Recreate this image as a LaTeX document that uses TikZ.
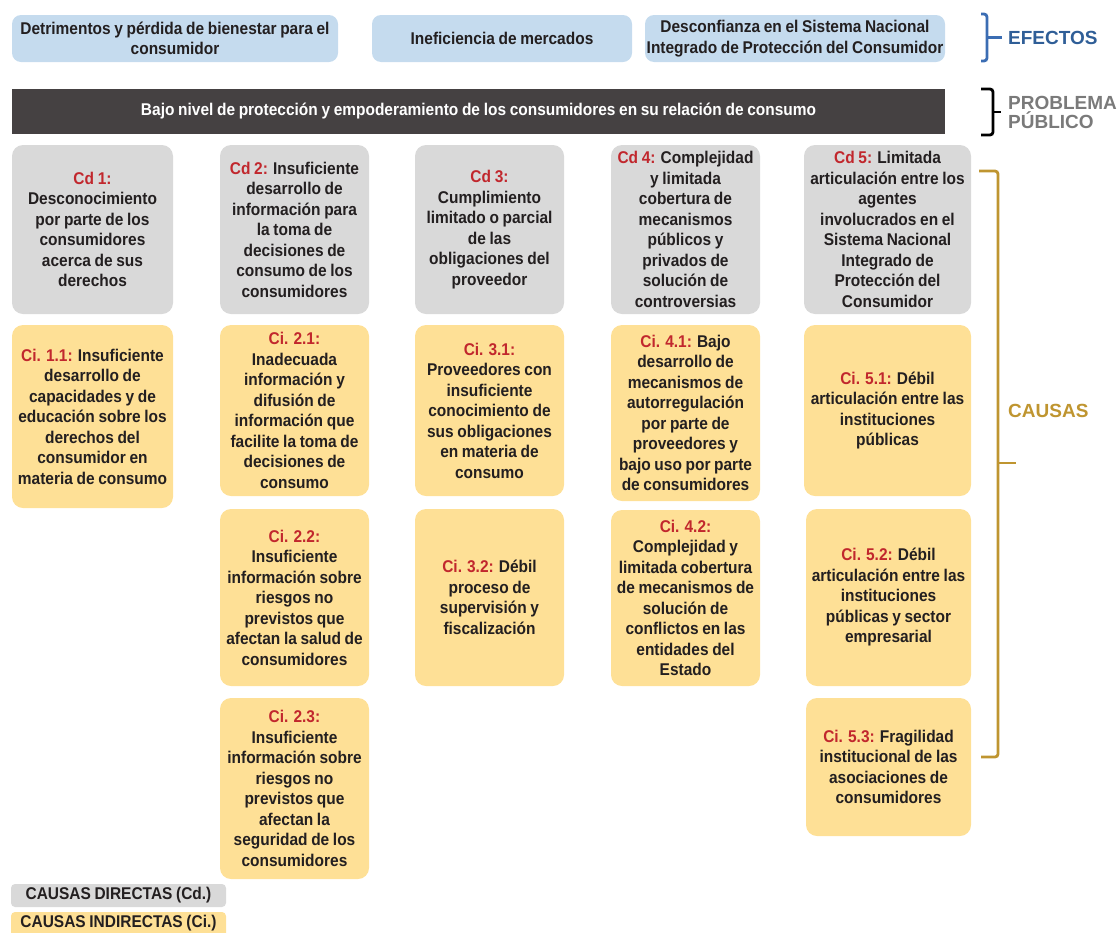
\documentclass[tikz,border=0pt]{standalone}
\usepackage{fontspec}
\setmainfont{Liberation Sans}[FakeStretch=0.91, WordSpace=0.85]
\newfontfamily\widefont{Liberation Sans}
\definecolor{cgray}{HTML}{D9D9D9}
\definecolor{cyel}{HTML}{FEE096}
\definecolor{cblue}{HTML}{C5DBEE}
\definecolor{cdark}{HTML}{454142}
\definecolor{cred}{HTML}{C1272D}
\definecolor{cgold}{HTML}{BF9530}
\definecolor{cbtext}{HTML}{2F5E97}
\definecolor{cbbr}{HTML}{3B6DB3}
\definecolor{cgtext}{HTML}{7A7A7A}
\definecolor{ctext}{HTML}{231F20}
\newcommand\fs{\fontsize{17}{20.5}\selectfont\bfseries}
\newcommand\rl[1]{\textcolor{cred}{#1}}
\newcommand\mybox[7]{%
  \node[#1, minimum width={(#5-#3)*1pt}, minimum height={(#6-#4)*1pt}] (#2) at ({(#3+#5)/2},{(#4+#6)/2}) {#7};}
\tikzset{
  base/.style={rounded corners=11pt, inner sep=0pt, align=center, font=\fs, text=ctext},
  cd/.style={base, fill=cgray},
  ci/.style={base, fill=cyel},
  ef/.style={base, fill=cblue, rounded corners=9pt},
  prob/.style={base, fill=cdark, text=white, rounded corners=0pt},
  leg/.style={base, rounded corners=4pt},
  side/.style={font=\widefont\fontsize{19}{21}\selectfont\bfseries, anchor=west, inner sep=0pt, align=left},
  brace/.style={line width=2.8pt, rounded corners=3pt},
  tip/.style={line width=2.8pt}
}
\begin{document}
\begin{tikzpicture}[x=1pt,y=-1pt]
\useasboundingbox (0,0) rectangle (1118,932);
% effects
\mybox{ef}{e1}{12}{15}{338}{62}{Detrimentos y pérdida de bienestar para el\\consumidor}
\mybox{ef}{e2}{372}{15}{632}{62}{Ineficiencia de mercados}
\mybox{ef}{e3}{645}{15}{945}{62}{Desconfianza en el Sistema Nacional\\Integrado de Protección del Consumidor}
% problem
\mybox{prob}{p}{12}{89}{945}{134}{Bajo nivel de protección y empoderamiento de los consumidores en su relación de consumo}
% direct causes
\mybox{cd}{cd1}{12}{145}{173}{314}{\rl{Cd 1:}\\Desconocimiento\\por parte de los\\consumidores\\acerca de sus\\derechos}
\mybox{cd}{cd2}{220}{145}{369}{314}{\rl{Cd 2:} Insuficiente\\desarrollo de\\información para\\la toma de\\decisiones de\\consumo de los\\consumidores}
\mybox{cd}{cd3}{415}{145}{564}{314}{\rl{Cd 3:}\\Cumplimiento\\limitado o parcial\\de las\\obligaciones del\\proveedor}
\mybox{cd}{cd4}{611}{145}{760}{314}{\rl{Cd 4:} Complejidad\\y limitada\\cobertura de\\mecanismos\\públicos y\\privados de\\solución de\\controversias}
\mybox{cd}{cd5}{804}{145}{971}{314}{\rl{Cd 5:} Limitada\\articulación entre los\\agentes\\involucrados en el\\Sistema Nacional\\Integrado de\\Protección del\\Consumidor}
% indirect causes
\mybox{ci}{ci11}{12}{325}{173}{508}{\rl{Ci. 1.1:} Insuficiente\\desarrollo de\\capacidades y de\\educación sobre los\\derechos del\\consumidor en\\materia de consumo}
\mybox{ci}{ci21}{220}{325}{369}{496}{\rl{Ci. 2.1:}\\Inadecuada\\información y\\difusión de\\información que\\facilite la toma de\\decisiones de\\consumo}
\mybox{ci}{ci22}{220}{509}{369}{686}{\rl{Ci. 2.2:}\\Insuficiente\\información sobre\\riesgos no\\previstos que\\afectan la salud de\\consumidores}
\mybox{ci}{ci23}{220}{698}{369}{879}{\rl{Ci. 2.3:}\\Insuficiente\\información sobre\\riesgos no\\previstos que\\afectan la\\seguridad de los\\consumidores}
\mybox{ci}{ci31}{415}{325}{564}{496}{\rl{Ci. 3.1:}\\Proveedores con\\insuficiente\\conocimiento de\\sus obligaciones\\en materia de\\consumo}
\mybox{ci}{ci32}{415}{509}{564}{686}{\rl{Ci. 3.2:} Débil\\proceso de\\supervisión y\\fiscalización}
\mybox{ci}{ci41}{611}{325}{760}{501}{\rl{Ci. 4.1:} Bajo\\desarrollo de\\mecanismos de\\autorregulación\\por parte de\\proveedores y\\bajo uso por parte\\de consumidores}
\mybox{ci}{ci42}{611}{510}{760}{686}{\rl{Ci. 4.2:}\\Complejidad y\\limitada cobertura\\de mecanismos de\\solución de\\conflictos en las\\entidades del\\Estado}
\mybox{ci}{ci51}{804}{325}{971}{496}{\rl{Ci. 5.1:} Débil\\articulación entre las\\instituciones\\públicas}
\mybox{ci}{ci52}{806}{509}{971}{686}{\rl{Ci. 5.2:} Débil\\articulación entre las\\instituciones\\públicas y sector\\empresarial}
\mybox{ci}{ci53}{806}{698}{971}{836}{\rl{Ci. 5.3:} Fragilidad\\institucional de las\\asociaciones de\\consumidores}
% legend
\mybox{leg, fill=cgray}{lg1}{11}{884}{226}{907}{CAUSAS DIRECTAS (Cd.)}
\fill[cyel, rounded corners=4pt] (11,912) rectangle (226,945);
\node[base, anchor=center] (lg2) at (118.5,923) {CAUSAS INDIRECTAS (Ci.)};
% side labels
\node[side, text=cbtext] (lef) at (1008,38) {EFECTOS};
\node[side, text=cgtext] (lpp) at (1008,112) {PROBLEMA\\[-2pt]PÚBLICO};
\node[side, text=cgold] (lca) at (1008,411) {CAUSAS};
% braces
\draw[brace, cbbr] (981,14) -- (987,14) -- (987,61) -- (981,61);
\draw[tip, cbbr] (987,37.5) -- (1002,37.5);
\draw[brace, black] (981,89) -- (993,89) -- (993,135) -- (981,135);
\draw[tip, black] (993,112) -- (1001,112);
\draw[brace, cgold] (979,171) -- (998,171) -- (998,757) -- (981,757);
\draw[tip, cgold] (998,463) -- (1016,463);
\end{tikzpicture}
\end{document}
